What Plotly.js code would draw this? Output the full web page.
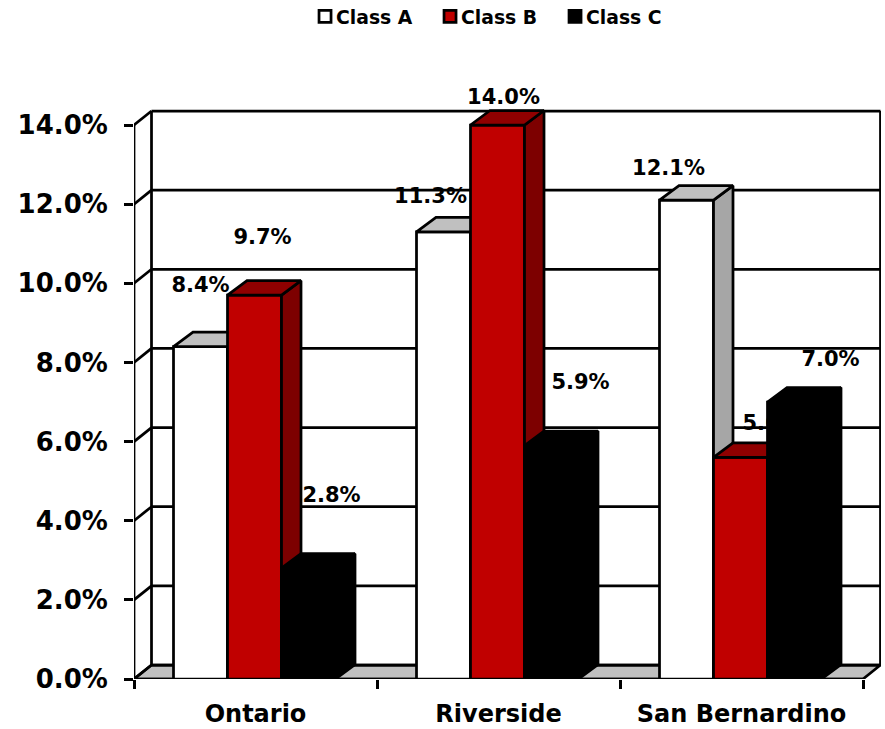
<!DOCTYPE html>
<html>
<head>
<meta charset="utf-8">
<script src="https://cdn.plot.ly/plotly-3.0.1.min.js"></script>
<style>html,body{margin:0;padding:0;background:#fff}</style>
</head>
<body>
<div id="chart" style="width:885px;height:729px"></div>
<script>
// Vacancy-style percentages by market and building class
const categories = ['Ontario', 'Riverside', 'San Bernardino'];
const classA = [8.4, 11.3, 12.1];
const classB = [9.7, 14.0, 5.6];
const classC = [2.8, 5.9, 7.0];
const yTicks = [0, 2, 4, 6, 8, 10, 12, 14];
const yTickLabels = ['0.0%', '2.0%', '4.0%', '6.0%', '8.0%', '10.0%', '12.0%', '14.0%'];

// Scale of the plot: pixels per category and per percentage point
const PX_X = 243, PX_Y = 39.57;
const PLOT = {l: 134, r: 4, t: 80, b: 50, w: 747, h: 599};
const XMIN = -0.5, XEND = 2.5;
const xRange = [XMIN, XMIN + PLOT.w / PX_X];
const yRange = [0, PLOT.h / PX_Y];

// Oblique depth of the walls and of the columns
const wallDx = 17.5 / PX_X, wallDy = 14 / PX_Y;
const barDx = 19.5 / PX_X, barDy = 14.5 / PX_Y;
const barW = 54 / PX_X;
const firstBar = 39.5 / PX_X - 0.5;

// Hand-placed data label shifts from the column's top centre (px)
const labelShiftX = [[0, -13, -18], [8, 6, 31], [23, 29, 36]];
const labelShiftY = [[59.5, 34.5, 30], [56.5, 26, 33], [71.5, 61.5, 41.5]];

const LINE = 2.75;
const INK = '#000000';

const seriesDefs = [
  {name: 'Class A', values: classA, front: '#ffffff', top: '#c0c0c0', side: '#a6a6a6', xa: 'x', ya: 'y'},
  {name: 'Class B', values: classB, front: '#c00000', top: '#900000', side: '#7d0000', xa: 'x2', ya: 'y2'},
  {name: 'Class C', values: classC, front: '#000000', top: '#000000', side: '#000000', xa: 'x3', ya: 'y3'}
];

function polygonTrace(xs, ys, fill, s) {
  return {
    type: 'scatter', mode: 'lines', x: xs, y: ys, xaxis: s.xa, yaxis: s.ya,
    fill: 'toself', fillcolor: fill, line: {color: INK, width: LINE, shape: 'linear'},
    hoverinfo: 'skip', showlegend: false, connectgaps: false
  };
}

const traces = [];
seriesDefs.forEach((s, si) => {
  const off = firstBar + si * barW;
  traces.push({
    type: 'bar', name: s.name, x: [0, 1, 2], y: s.values, width: barW, offset: off,
    xaxis: s.xa, yaxis: s.ya,
    marker: {color: s.front, line: {color: INK, width: LINE}}
  });
  const sideX = [], sideY = [], topX = [], topY = [];
  s.values.forEach((v, i) => {
    const l = i + off, r = l + barW;
    sideX.push(r, r + barDx, r + barDx, r, r, null);
    sideY.push(0, barDy, v + barDy, v, 0, null);
    topX.push(l, l + barDx, r + barDx, r, l, null);
    topY.push(v, v + barDy, v + barDy, v, v, null);
  });
  traces.push(polygonTrace(sideX, sideY, s.side, s));
  traces.push(polygonTrace(topX, topY, s.top, s));

  // Labels sit in the middle layer, so Class C columns can cover them
  if (si === 1) {
    const lx = [], ly = [], lt = [];
    seriesDefs.forEach((d, di) => d.values.forEach((v, i) => {
      lx.push(i + firstBar + (di + 0.5) * barW + labelShiftX[di][i] / PX_X);
      ly.push(v + labelShiftY[di][i] / PX_Y);
      lt.push(v.toFixed(1) + '%');
    }));
    traces.push({
      type: 'scatter', mode: 'text', x: lx, y: ly, text: lt, xaxis: 'x2', yaxis: 'y2',
      textposition: 'middle center', cliponaxis: false, hoverinfo: 'skip', showlegend: false,
      textfont: {family: 'DejaVu Sans', size: 21, color: INK, weight: 700}
    });
  }
});

// Walls, floor and gridlines behind the columns
const edge = (x0, y0, x1, y1) => ({
  type: 'line', xref: 'x', yref: 'y', x0, y0, x1, y1, layer: 'below',
  line: {color: INK, width: LINE}
});
const shapes = [{
  type: 'path', xref: 'x', yref: 'y', layer: 'below',
  path: `M${XMIN},0 L${XMIN + wallDx},${wallDy} L${XEND + wallDx},${wallDy} L${XEND},0 Z`,
  fillcolor: '#c0c0c0', line: {color: INK, width: LINE}
}];
const topTick = yTicks[yTicks.length - 1];
yTicks.forEach(v => {
  shapes.push(edge(XMIN, v, XMIN + wallDx, v + wallDy));
  shapes.push(edge(XMIN + wallDx, v + wallDy, XEND + wallDx, v + wallDy));
});
shapes.push(edge(XMIN, 0, XMIN, topTick));
shapes.push(edge(XMIN + wallDx, wallDy, XMIN + wallDx, topTick + wallDy));
shapes.push(edge(XEND + wallDx, wallDy, XEND + wallDx, topTick + wallDy));
shapes.push(edge(XMIN, 0, XEND, 0));

const hiddenX = {range: xRange, overlaying: 'x', visible: false, fixedrange: true};
const hiddenY = {range: yRange, overlaying: 'y', visible: false, fixedrange: true};

const layout = {
  width: 885, height: 729,
  margin: {l: PLOT.l, r: PLOT.r, t: PLOT.t, b: PLOT.b, pad: 0},
  paper_bgcolor: '#ffffff', plot_bgcolor: '#ffffff',
  font: {family: 'DejaVu Sans', color: INK},
  showlegend: true,
  legend: {
    orientation: 'h', xref: 'container', yref: 'container',
    x: 0.3345, y: 0.977, xanchor: 'left', yanchor: 'middle',
    entrywidth: 80, entrywidthmode: 'pixels', traceorder: 'normal',
    font: {family: 'DejaVu Sans', size: 18.8, color: INK, weight: 700}
  },
  xaxis: {
    range: xRange, tickmode: 'array', tickvals: [-0.5, 0.5, 1.5, 2.5], showticklabels: false,
    ticks: 'outside', ticklen: 9, tickwidth: LINE, tickcolor: INK,
    showgrid: false, zeroline: false, showline: false, fixedrange: true
  },
  yaxis: {
    range: yRange, tickmode: 'array', tickvals: yTicks, ticktext: yTickLabels,
    ticks: 'outside', ticklen: 9, tickwidth: LINE, tickcolor: INK, ticklabelstandoff: 11,
    tickfont: {family: 'DejaVu Sans', size: 26, color: INK, weight: 700},
    showgrid: false, zeroline: false, showline: false, fixedrange: true
  },
  // Category names centred under each group
  xaxis2: {
    range: xRange, overlaying: 'x', tickmode: 'array', tickvals: [0, 1, 2], ticktext: categories,
    ticks: '', ticklabelstandoff: 18, showgrid: false, zeroline: false, showline: false, fixedrange: true,
    tickfont: {family: 'DejaVu Sans', size: 24, color: INK, weight: 700}
  },
  yaxis2: hiddenY,
  xaxis3: hiddenX,
  yaxis3: Object.assign({}, hiddenY),
  shapes
};

Plotly.newPlot('chart', traces, layout, {displayModeBar: false, responsive: false}).then(gd => {
  // Tighten the gap between each legend key and its text
  gd.querySelectorAll('.legend .traces .legendpoints').forEach(g => {
    g.setAttribute('transform', 'translate(9,0)');
  });
});
</script>
</body>
</html>
